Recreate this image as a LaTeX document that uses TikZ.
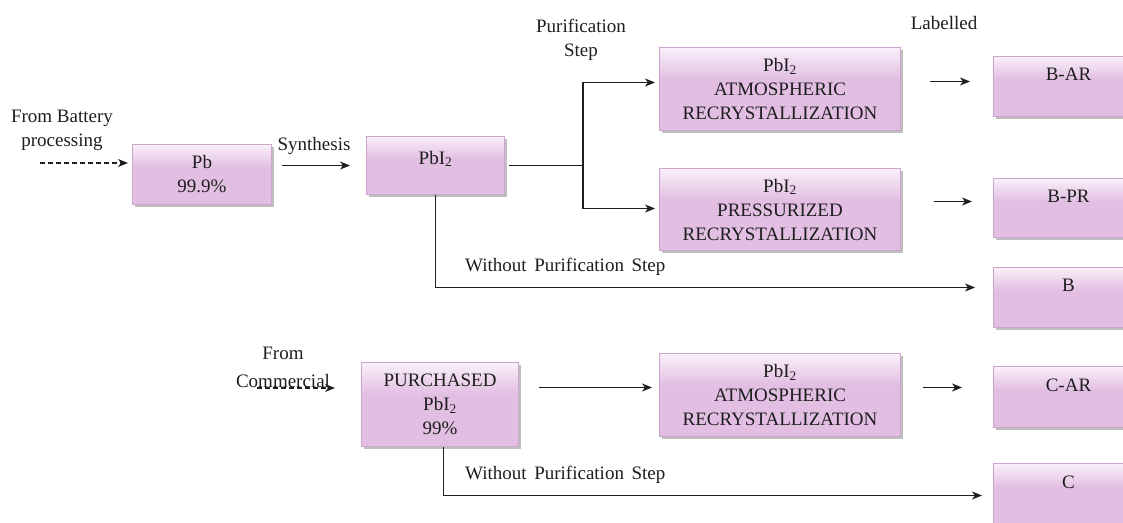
\documentclass[tikz,border=0pt]{standalone}
\usepackage{fontspec}
\setmainfont{Liberation Serif}
\usetikzlibrary{shadows,calc,arrows.meta}
\definecolor{boxmain}{RGB}{226,191,226}
\definecolor{boxtop}{RGB}{249,240,249}
\definecolor{boxline}{RGB}{205,165,205}
\definecolor{ink}{RGB}{30,30,30}
\pgfdeclareverticalshading{boxshade}{100bp}{color(0bp)=(boxmain); color(25bp)=(boxmain); color(56bp)=(boxmain); color(75bp)=(boxtop); color(100bp)=(boxtop)}
\begin{document}
\begin{tikzpicture}[x=1pt,y=-1pt,
  every node/.style={font=\fontsize{19}{24}\selectfont, text=ink},
  box/.style={draw=boxline, line width=1pt, shading=boxshade, align=center, inner sep=0pt, anchor=north west,
    drop shadow={shadow xshift=2.5pt, shadow yshift=-2.5pt, fill=black!50, opacity=0.5}},
  arr/.style={draw=ink, line width=1.2pt, -{Stealth[length=10pt,width=8pt,inset=3pt]}},
  plain/.style={draw=ink, line width=1.2pt},
  dsh/.style={dash pattern=on 5pt off 3pt},
  lbl/.style={align=center, inner sep=0pt}]
\clip (0,0) rectangle (1123,522);
\fill[white] (0,0) rectangle (1123,522);

% boxes
\node[box, minimum width=139pt, minimum height=60pt] (pb) at (132,144) {Pb\\99.9\%};
\node[box, minimum width=138pt, minimum height=58pt] (pbi) at (366,136) {PbI\textsubscript{2}\\[-8pt]\mbox{}};
\node[box, minimum width=241pt, minimum height=83pt] (atm) at (659,47) {PbI\textsubscript{2}\\ATMOSPHERIC\\RECRYSTALLIZATION};
\node[box, minimum width=241pt, minimum height=82pt] (press) at (659,168) {PbI\textsubscript{2}\\PRESSURIZED\\RECRYSTALLIZATION};
\node[box, minimum width=150pt, minimum height=60pt] (bar) at (993,56) {B-AR\\\mbox{}};
\node[box, minimum width=150pt, minimum height=59pt] (bpr) at (993,178) {B-PR\\\mbox{}};
\node[box, minimum width=150pt, minimum height=60pt] (bb) at (993,267) {B\\\mbox{}};
\node[box, minimum width=157pt, minimum height=84pt] (pur) at (361,362) {PURCHASED\\PbI\textsubscript{2}\\99\%};
\node[box, minimum width=241pt, minimum height=83pt] (atm2) at (659,353) {PbI\textsubscript{2}\\ATMOSPHERIC\\RECRYSTALLIZATION};
\node[box, minimum width=150pt, minimum height=61pt] (car) at (993,366) {C-AR\\\mbox{}};
\node[box, minimum width=150pt, minimum height=62pt] (cc) at (993,463) {C\\\mbox{}};

% labels
\node[lbl] (batttxt) at (62,130) {From Battery\\processing};
\node[lbl] (syntxt) at (314,146) {Synthesis};
\node[lbl] (purtxt) at (581,40) {Purification\\Step};
\node[lbl] (labtxt) at (944,23) {Labelled};
\node[lbl, anchor=west] (wo1) at (465,267) {Without\hspace{0.4em}Purification\hspace{0.4em}Step};
\node[lbl, anchor=west] (wo2) at (465,475) {Without\hspace{0.4em}Purification\hspace{0.4em}Step};
\node[lbl] (comtxt) at (283,367) {From\\[4pt]Commercial};

% connectors
\coordinate (battin) at (40,163);
\draw[arr, dsh, shorten >=4pt] (battin) -- (battin -| pb.west);
\draw[arr, shorten <=10pt, shorten >=16pt] (pb.east |- pbi.west) -- (pbi.west);
\coordinate (split) at ($(pbi.east)+(78,0)$);
\draw[plain, shorten <=4pt] (pbi.east) -- (split);
\draw[arr, shorten >=4pt] (split) |- ([yshift=6.5pt]atm.west);
\draw[arr, shorten >=4pt] (split) |- ([yshift=1pt]press.west);
\draw[arr, shorten <=29pt, shorten >=23pt] ([yshift=7.5pt]atm.east) -- ([yshift=7.5pt]atm.east -| bar.west);
\draw[arr, shorten <=33pt, shorten >=21pt] ([yshift=8pt]press.east) -- ([yshift=8pt]press.east -| bpr.west);
\draw[arr, shorten >=18pt] (pbi.south) |- ([yshift=10pt]bb.west);

\coordinate (comin) at (257,388);
\draw[arr, dsh, shorten >=26pt] (comin) -- (comin -| pur.west);
\draw[arr, shorten <=20pt, shorten >=7pt] ([yshift=17pt]pur.east) -- ([yshift=17pt]pur.east -| atm2.west);
\draw[arr, shorten <=22pt, shorten >=31pt] ([yshift=7.5pt]atm2.east) -- ([yshift=7.5pt]atm2.east -| car.west);
\draw[arr, shorten >=11pt] ([xshift=3.5pt]pur.south) |- ([yshift=-1pt]cc.west);
\end{tikzpicture}
\end{document}
